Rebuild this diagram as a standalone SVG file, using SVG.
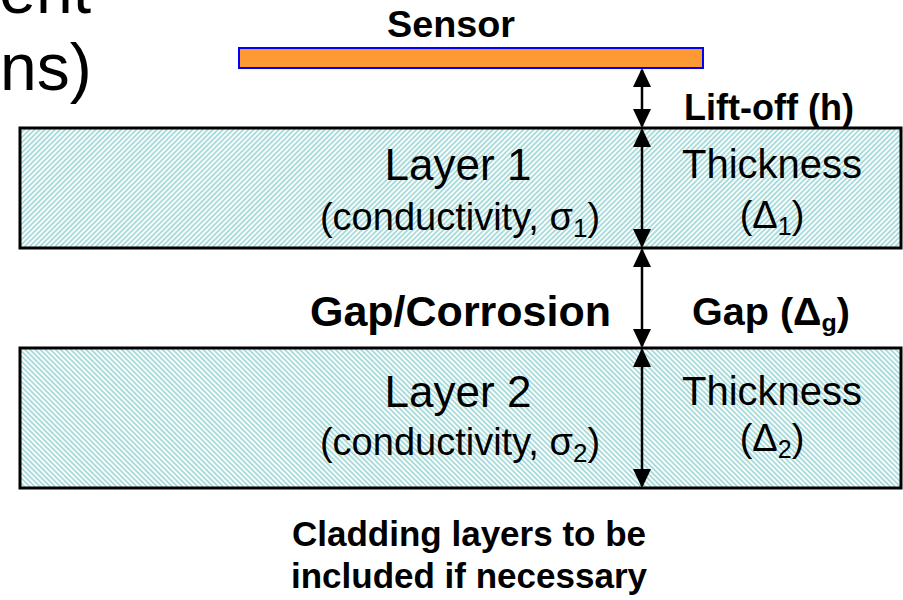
<svg xmlns="http://www.w3.org/2000/svg" width="903" height="600" viewBox="0 0 903 600">
<defs>
<pattern id="hatchA" width="3.6" height="3.6" patternUnits="userSpaceOnUse" patternTransform="rotate(45)">
<rect width="3.6" height="3.6" fill="#ffffff"/>
<rect width="1.9" height="3.6" fill="#a9dbdb"/>
</pattern>
<pattern id="hatchB" width="3.6" height="3.6" patternUnits="userSpaceOnUse" patternTransform="rotate(-45)">
<rect width="3.6" height="3.6" fill="#ffffff"/>
<rect width="1.9" height="3.6" fill="#a9dbdb"/>
</pattern>
<marker id="ah" viewBox="0 0 19 18" refX="17" refY="9" markerWidth="19" markerHeight="18" markerUnits="userSpaceOnUse" orient="auto-start-reverse">
<path d="M0,0 L19,9 L0,18 z" fill="#000"/>
</marker>
<style>
.layer{stroke:#000;stroke-width:3}
.reg{font-family:"Liberation Sans",Arial,sans-serif;fill:#000}
.bold{font-family:"Liberation Sans",Arial,sans-serif;font-weight:bold;fill:#000}
.dim{stroke:#000;stroke-width:2.5;fill:none;marker-start:url(#ah);marker-end:url(#ah)}
</style>
</defs>
<rect width="903" height="600" fill="#fff"/>
<g id="title-fragment">
<text class="reg" x="91" y="13" font-size="66" text-anchor="end">ent</text>
<text class="reg" x="0" y="90" font-size="66">ns)</text>
</g>
<g id="sensor">
<rect x="239" y="48" width="464" height="20" fill="#ff9933" stroke="#0000ff" stroke-width="2"/>
<text class="bold" x="451" y="37" font-size="36" text-anchor="middle" textLength="128" lengthAdjust="spacingAndGlyphs">Sensor</text>
</g>
<g id="layer1">
<rect class="layer" x="20" y="128" width="881" height="120" fill="url(#hatchA)"/>
<text class="reg" x="458" y="180" font-size="44" text-anchor="middle">Layer 1</text>
<text class="reg" x="460" y="230" font-size="38" text-anchor="middle">(conductivity, σ<tspan font-size="26" dy="7">1</tspan><tspan dy="-7">)</tspan></text>
<text class="reg" x="772" y="178" font-size="40" text-anchor="middle">Thickness</text>
<text class="reg" x="772" y="228" font-size="38" text-anchor="middle">(Δ<tspan font-size="25" dy="7">1</tspan><tspan dy="-7">)</tspan></text>
</g>
<g id="gap">
<text class="bold" x="310" y="326" font-size="43" textLength="301" lengthAdjust="spacingAndGlyphs">Gap/Corrosion</text>
<text class="bold" x="692" y="325" font-size="38" textLength="158" lengthAdjust="spacingAndGlyphs">Gap (Δ<tspan font-size="24" dy="6">g</tspan><tspan dy="-6">)</tspan></text>
</g>
<g id="layer2">
<rect class="layer" x="20" y="348" width="881" height="140" fill="url(#hatchB)"/>
<text class="reg" x="458" y="407" font-size="44" text-anchor="middle">Layer 2</text>
<text class="reg" x="460" y="455" font-size="38" text-anchor="middle">(conductivity, σ<tspan font-size="26" dy="7">2</tspan><tspan dy="-7">)</tspan></text>
<text class="reg" x="772" y="405" font-size="40" text-anchor="middle">Thickness</text>
<text class="reg" x="772" y="451" font-size="38" text-anchor="middle">(Δ<tspan font-size="25" dy="7">2</tspan><tspan dy="-7">)</tspan></text>
</g>
<g id="liftoff-label">
<text class="bold" x="684" y="120" font-size="36">Lift-off (h)</text>
</g>
<g id="note">
<text class="bold" x="469" y="546" font-size="35" text-anchor="middle">Cladding layers to be</text>
<text class="bold" x="469" y="588" font-size="35" text-anchor="middle">included if necessary</text>
</g>
<g id="connectors">
<line class="dim" x1="642" y1="70" x2="642" y2="126"/>
<line class="dim" x1="642" y1="130" x2="642" y2="246"/>
<line class="dim" x1="642" y1="250" x2="642" y2="346"/>
<line class="dim" x1="642" y1="350" x2="642" y2="486"/>
</g>
</svg>
